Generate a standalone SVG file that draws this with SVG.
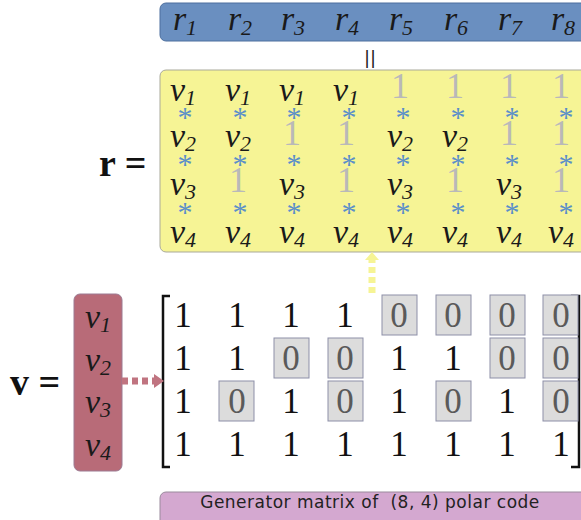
<svg xmlns="http://www.w3.org/2000/svg" width="581" height="520" viewBox="0 0 581 520">
<style>
.v{font-family:"Liberation Serif",serif;font-style:italic;font-size:34px;fill:#1a1a1a;text-anchor:middle}
.s{font-size:22px}
.g1{font-family:"Liberation Serif",serif;font-size:36px;fill:#b9b9b9;text-anchor:middle}
.ast{font-family:"Liberation Serif",serif;font-size:30px;fill:#5b8fc9;text-anchor:middle}
.m{font-family:"Liberation Serif",serif;font-size:35px;fill:#111;text-anchor:middle}
.z{font-family:"Liberation Serif",serif;font-size:35px;fill:#5a5a5a;text-anchor:middle}
.zb{fill:#dcdcdc;stroke:#8d8fa8;stroke-width:1}
.lbl{font-family:"Liberation Serif",serif;font-weight:bold;font-size:38px;fill:#111}
</style>

<g id="r-vector">
<rect x="160" y="3" width="430" height="38" rx="6" fill="#6a8fc0" stroke="#4d6f9e" stroke-width="1"/>
<text class="v" x="185" y="30">r<tspan class="s" dy="5">1</tspan></text>
<text class="v" x="240" y="30">r<tspan class="s" dy="5">2</tspan></text>
<text class="v" x="293" y="30">r<tspan class="s" dy="5">3</tspan></text>
<text class="v" x="347" y="30">r<tspan class="s" dy="5">4</tspan></text>
<text class="v" x="401" y="30">r<tspan class="s" dy="5">5</tspan></text>
<text class="v" x="456" y="30">r<tspan class="s" dy="5">6</tspan></text>
<text class="v" x="510" y="30">r<tspan class="s" dy="5">7</tspan></text>
<text class="v" x="563" y="30">r<tspan class="s" dy="5">8</tspan></text>
</g>

<g id="equals-sign">
<text x="370" y="64" font-family="DejaVu Sans,sans-serif" font-size="18" fill="#222" text-anchor="middle">||</text>
</g>

<g id="r-label"><text class="lbl" x="99" y="176">r =</text></g>

<g id="r-matrix">
<rect x="160" y="70" width="430" height="182" rx="6" fill="#f6f495" stroke="#a9a99a" stroke-width="1"/>
<text class="v" x="183" y="101">v<tspan class="s" dy="4">1</tspan></text>
<text class="v" x="238" y="101">v<tspan class="s" dy="4">1</tspan></text>
<text class="v" x="292" y="101">v<tspan class="s" dy="4">1</tspan></text>
<text class="v" x="346" y="101">v<tspan class="s" dy="4">1</tspan></text>
<text class="g1" x="400" y="98">1</text>
<text class="g1" x="455" y="98">1</text>
<text class="g1" x="509" y="98">1</text>
<text class="g1" x="561" y="98">1</text>
<g class="ast">
<text x="185" y="127">*</text><text x="240" y="127">*</text><text x="294" y="127">*</text><text x="349" y="127">*</text><text x="403" y="127">*</text><text x="458" y="127">*</text><text x="512" y="127">*</text><text x="566" y="127">*</text>
<text x="185" y="174">*</text><text x="240" y="174">*</text><text x="294" y="174">*</text><text x="349" y="174">*</text><text x="403" y="174">*</text><text x="458" y="174">*</text><text x="512" y="174">*</text><text x="566" y="174">*</text>
<text x="185" y="222">*</text><text x="240" y="222">*</text><text x="294" y="222">*</text><text x="349" y="222">*</text><text x="403" y="222">*</text><text x="458" y="222">*</text><text x="512" y="222">*</text><text x="566" y="222">*</text>
</g>
<text class="v" x="183" y="147">v<tspan class="s" dy="4">2</tspan></text>
<text class="v" x="238" y="147">v<tspan class="s" dy="4">2</tspan></text>
<text class="g1" x="292" y="145">1</text>
<text class="g1" x="346" y="145">1</text>
<text class="v" x="400" y="147">v<tspan class="s" dy="4">2</tspan></text>
<text class="v" x="455" y="147">v<tspan class="s" dy="4">2</tspan></text>
<text class="g1" x="509" y="145">1</text>
<text class="g1" x="561" y="145">1</text>
<text class="v" x="183" y="195">v<tspan class="s" dy="4">3</tspan></text>
<text class="g1" x="238" y="192">1</text>
<text class="v" x="292" y="195">v<tspan class="s" dy="4">3</tspan></text>
<text class="g1" x="346" y="192">1</text>
<text class="v" x="400" y="195">v<tspan class="s" dy="4">3</tspan></text>
<text class="g1" x="455" y="192">1</text>
<text class="v" x="509" y="195">v<tspan class="s" dy="4">3</tspan></text>
<text class="g1" x="561" y="192">1</text>
<text class="v" x="183" y="243">v<tspan class="s" dy="4">4</tspan></text>
<text class="v" x="238" y="243">v<tspan class="s" dy="4">4</tspan></text>
<text class="v" x="292" y="243">v<tspan class="s" dy="4">4</tspan></text>
<text class="v" x="346" y="243">v<tspan class="s" dy="4">4</tspan></text>
<text class="v" x="400" y="243">v<tspan class="s" dy="4">4</tspan></text>
<text class="v" x="455" y="243">v<tspan class="s" dy="4">4</tspan></text>
<text class="v" x="509" y="243">v<tspan class="s" dy="4">4</tspan></text>
<text class="v" x="561" y="243">v<tspan class="s" dy="4">4</tspan></text>
</g>

<g id="v-label"><text class="lbl" x="10" y="395">v =</text></g>

<g id="v-vector">
<rect x="74" y="294" width="48" height="177" rx="6" fill="#b86b78" stroke="#9c7a92" stroke-width="1"/>
<text class="v" x="98" y="328">v<tspan class="s" dy="4">1</tspan></text>
<text class="v" x="98" y="371">v<tspan class="s" dy="4">2</tspan></text>
<text class="v" x="98" y="413">v<tspan class="s" dy="4">3</tspan></text>
<text class="v" x="98" y="456">v<tspan class="s" dy="4">4</tspan></text>
</g>

<g id="generator-matrix">
<path d="M170,296 H163 V467 H170" fill="none" stroke="#111" stroke-width="2.5"/>
<path d="M571,296 H579 V467 H571" fill="none" stroke="#111" stroke-width="2.5"/>
<rect class="zb" x="382" y="295" width="35" height="40"/>
<rect class="zb" x="436" y="295" width="35" height="40"/>
<rect class="zb" x="490" y="295" width="35" height="40"/>
<rect class="zb" x="543" y="295" width="35" height="40"/>
<rect class="zb" x="274" y="338" width="35" height="40"/>
<rect class="zb" x="328" y="338" width="35" height="40"/>
<rect class="zb" x="490" y="338" width="35" height="40"/>
<rect class="zb" x="543" y="338" width="35" height="40"/>
<rect class="zb" x="219" y="381" width="35" height="40"/>
<rect class="zb" x="328" y="381" width="35" height="40"/>
<rect class="zb" x="436" y="381" width="35" height="40"/>
<rect class="zb" x="543" y="381" width="35" height="40"/>
<text class="m" x="183" y="327">1</text><text class="m" x="237" y="327">1</text><text class="m" x="291" y="327">1</text><text class="m" x="345" y="327">1</text>
<text class="z" x="399" y="327">0</text><text class="z" x="453" y="327">0</text><text class="z" x="507" y="327">0</text><text class="z" x="561" y="327">0</text>
<text class="m" x="183" y="370">1</text><text class="m" x="237" y="370">1</text><text class="z" x="291" y="370">0</text><text class="z" x="345" y="370">0</text>
<text class="m" x="399" y="370">1</text><text class="m" x="453" y="370">1</text><text class="z" x="507" y="370">0</text><text class="z" x="561" y="370">0</text>
<text class="m" x="183" y="413">1</text><text class="z" x="237" y="413">0</text><text class="m" x="291" y="413">1</text><text class="z" x="345" y="413">0</text>
<text class="m" x="399" y="413">1</text><text class="z" x="453" y="413">0</text><text class="m" x="507" y="413">1</text><text class="z" x="561" y="413">0</text>
<text class="m" x="183" y="456">1</text><text class="m" x="237" y="456">1</text><text class="m" x="291" y="456">1</text><text class="m" x="345" y="456">1</text>
<text class="m" x="399" y="456">1</text><text class="m" x="453" y="456">1</text><text class="m" x="507" y="456">1</text><text class="m" x="561" y="456">1</text>
</g>

<g id="caption">
<rect x="160" y="492" width="430" height="40" rx="6" fill="#d4a8d0" stroke="#9a8a9c" stroke-width="1"/>
<text x="370" y="508" font-family="DejaVu Sans,sans-serif" font-size="17" letter-spacing="0.5" fill="#222" text-anchor="middle" xml:space="preserve">Generator matrix of  (8, 4) polar code</text>
</g>

<g id="connectors">
<line x1="122" y1="381" x2="154" y2="381" stroke="#c07480" stroke-width="7" stroke-dasharray="6,4"/>
<path d="M154,374 L164,381 L154,388 z" fill="#c07480"/>
<line x1="372" y1="293" x2="372" y2="259" stroke="#f6f495" stroke-width="7" stroke-dasharray="6,4"/>
<path d="M365,260 L372,252 L379,260 z" fill="#f6f495"/>
</g>
</svg>
